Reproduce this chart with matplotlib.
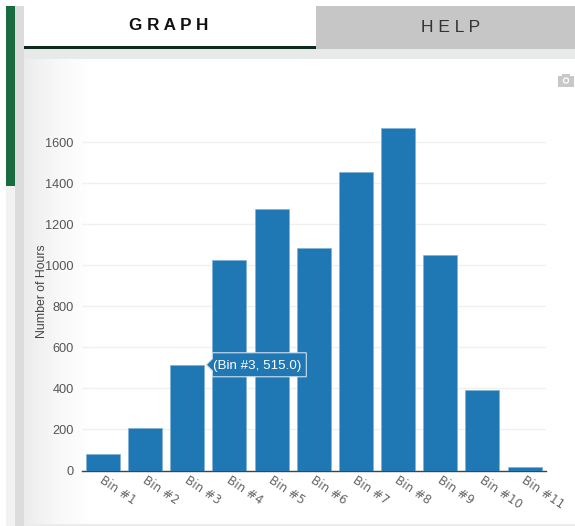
import numpy as np
import matplotlib
matplotlib.use("Agg")
import matplotlib.pyplot as plt
from matplotlib.patches import Rectangle, Polygon
from matplotlib.colors import LinearSegmentedColormap
from matplotlib.transforms import Affine2D, ScaledTranslation

categories = ["Bin #1", "Bin #2", "Bin #3", "Bin #4", "Bin #5", "Bin #6",
              "Bin #7", "Bin #8", "Bin #9", "Bin #10", "Bin #11"]
hours = [80, 207, 515, 1025, 1272, 1085, 1452, 1667, 1050, 392, 17]
y_ticks = [0, 200, 400, 600, 800, 1000, 1200, 1400, 1600]
hover_index = 2
BAR = "#1f77b4"
W, H = 575, 526
plt.rcParams["font.family"] = ["Liberation Sans", "DejaVu Sans"]
fig = plt.figure(figsize=(W / 100, H / 100), dpi=100, facecolor="white")

def R(x0, y0, x1, y1, color, z=0):
    fig.add_artist(Rectangle((x0 / W, 1 - y1 / H), (x1 - x0) / W, (y1 - y0) / H,
                             transform=fig.transFigure, fc=color, ec="none", zorder=z))

# page chrome
R(6, 6, 15, 526, "#f2f2f2")
R(15, 6, 24, 526, "#dcdcdc")
R(6, 6, 15, 186, "#1a6b3f", 1)
R(24, 6, 316, 46, "#ffffff")
R(24, 46, 316, 49, "#0d2a1a", 1)
R(316, 6, 575, 49, "#c6c6c6")
R(24, 49, 575, 59, "#e8e9e9")
R(24, 523.5, 575, 526, "#ececec")

grad = fig.add_axes([24 / W, 1 - 523.5 / H, 66 / W, 464.5 / H], zorder=0)
cmap = LinearSegmentedColormap.from_list("g", ["#ececec", "#f8f8f8", "#ffffff"])
grad.imshow(np.linspace(0, 1, 64)[None, :], aspect="auto", cmap=cmap)
grad.axis("off")

fig.text(169 / W, 1 - 26 / H, "G R A P H", ha="center", va="center",
         fontsize=12.3, fontweight="bold", color="#111111")
fig.text(451 / W, 1 - 28 / H, "H E L P", ha="center", va="center",
         fontsize=12.5, color="#333333")

# camera icon (decorative)
cam = fig.add_axes([558 / W, 1 - 87 / H, 16 / W, 14 / H], zorder=3)
cam.set_xlim(0, 16); cam.set_ylim(14, 0); cam.axis("off"); cam.patch.set_alpha(0)
cam.add_patch(Rectangle((0, 2.5), 16, 11, fc="#c8c8c8", ec="none"))
cam.add_patch(Rectangle((4, 0.5), 8, 3, fc="#c8c8c8", ec="none"))
cam.add_patch(plt.Circle((8, 7.5), 3.2, fc="#ffffff", ec="none"))
cam.add_patch(plt.Circle((8, 7.5), 1.9, fc="#c8c8c8", ec="none"))

# plot
x0px, x1px, ytop, ybot = 82, 546, 60, 470.5
scale = (470.5 - 142) / 1600
ax = fig.add_axes([x0px / W, 1 - ybot / H, (x1px - x0px) / W, (ybot - ytop) / H], zorder=2)
ax.patch.set_alpha(0)
step = 42.15
xs = np.arange(len(categories))
ax.set_xlim(-(103 - x0px) / step, (x1px - 103) / step)
ax.set_ylim(0, (ybot - ytop) / scale)
ax.bar(xs, hours, width=34 / step, color=BAR, edgecolor="#7fb2d6", linewidth=0.5, zorder=3)
ax.set_yticks(y_ticks)
ax.set_xticks(xs)
ax.set_xticklabels(categories, rotation=-34, ha="left", rotation_mode="anchor",
                   family="DejaVu Sans", fontsize=8.6, color="#666666")
ax.tick_params(axis="x", length=0, pad=2)
shift = ScaledTranslation(2 / 100, 0, fig.dpi_scale_trans)
for lab in ax.get_xticklabels():
    lab.set_transform(lab.get_transform() + shift)
ax.tick_params(axis="y", length=0, pad=6, labelsize=9.2, labelcolor="#555555")
ax.grid(axis="y", color="#f0f0f0", linewidth=1, zorder=0)
ax.grid(axis="x", visible=False)
for s in ["top", "right", "left"]:
    ax.spines[s].set_visible(False)
ax.spines["bottom"].set_color("#444444")
ax.spines["bottom"].set_linewidth(1)
ax.spines["bottom"].set_zorder(2)
ax.set_ylabel("Number of Hours", fontsize=8.8, color="#444444")
ax.yaxis.set_label_coords((48 - x0px) / (x1px - x0px), (470.5 - 291) / (ybot - ytop))

# hover label, anchored on the hovered bar's own data coordinates
hx, hy = xs[hover_index], hours[hover_index]
px, py = ax.transData.transform((hx + 17 / step, hy))
shape = [(2, 0), (8, 6), (8, 12), (102, 12), (102, -12), (8, -12), (8, -6)]
ax.add_patch(Polygon(shape, closed=True, fc=BAR, ec="#cfe2f0", lw=0.8, zorder=6,
                     transform=Affine2D().translate(px, py), clip_on=False))
ax.annotate(f"({categories[hover_index]}, {hy:.1f})", xy=(hx + 17 / step, hy),
            xytext=(9, -1), textcoords="offset pixels", ha="left", va="center",
            fontsize=9.6, color="white", zorder=7)

fig.savefig("out.png", dpi=100)
